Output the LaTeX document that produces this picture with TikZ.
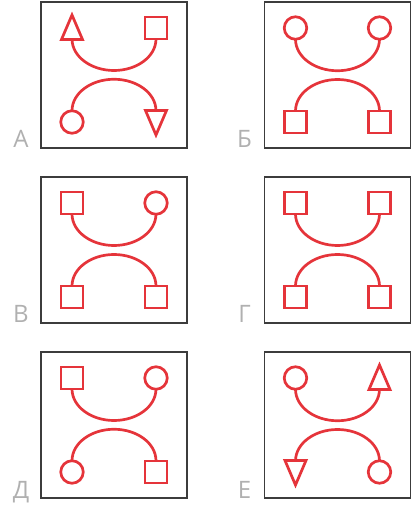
\documentclass[tikz,border=0pt]{standalone}
\usepackage{fontspec}
\setmainfont{Open Sans}
\definecolor{myred}{HTML}{E5343A}
\definecolor{boxgray}{HTML}{3C3C3C}
\definecolor{labgray}{HTML}{B0B0B0}
\begin{document}
\begin{tikzpicture}[x=1pt,y=1pt,
  frame/.style={draw=boxgray,line width=1.1pt},
  shp/.style={draw=myred,line width=2.7pt},
  rnd/.style={shp,circle,minimum size=22.5pt,inner sep=0pt,outer sep=0pt},
  sqr/.style={shp,rectangle,minimum size=22pt,inner sep=0pt,outer sep=0pt},
  arcl/.style={draw=myred,line width=2.7pt},
  dn/.style={start angle=180,end angle=360,x radius=42,y radius=31.5},
  up/.style={start angle=180,end angle=0,x radius=42,y radius=31.5},
  lab/.style={anchor=base,text=labgray,font=\fontsize{24}{24}\selectfont,inner sep=0pt}]
\useasboundingbox (0,0) rectangle (413,507);

% ---------- A ----------
\begin{scope}[shift={(41,505)}]
  \draw[frame] (0,0) rectangle (146,-146);
  \draw[shp] (20.5,-37.5) -- (31,-13) -- (41.5,-37.5) -- cycle;
  \coordinate (a1) at (31,-37);
  \node[sqr] (a2) at (115,-26) {};
  \node[rnd] (a3) at (31,-120) {};
  \draw[shp] (104.5,-108.5) -- (125.5,-108.5) -- (115,-133) -- cycle;
  \coordinate (a4) at (115,-109);
  \draw[arcl] (a1) arc[dn];
  \draw[arcl] (a3.north) arc[up];
  \node[lab] (la) at (-20,-146) {А};
\end{scope}

% ---------- Б ----------
\begin{scope}[shift={(264.5,505)}]
  \draw[frame] (0,0) rectangle (146,-146);
  \node[rnd] (b1) at (31,-26) {};
  \node[rnd] (b2) at (115,-26) {};
  \node[sqr] (b3) at (31,-120) {};
  \node[sqr] (b4) at (115,-120) {};
  \draw[arcl] (b1.south) arc[dn];
  \draw[arcl] (b3.north) arc[up];
  \node[lab] (lb) at (-20,-146) {Б};
\end{scope}

% ---------- В ----------
\begin{scope}[shift={(41,330)}]
  \draw[frame] (0,0) rectangle (146,-146);
  \node[sqr] (c1) at (31,-26) {};
  \node[rnd] (c2) at (115,-26) {};
  \node[sqr] (c3) at (31,-120) {};
  \node[sqr] (c4) at (115,-120) {};
  \draw[arcl] (c1.south) arc[dn];
  \draw[arcl] (c3.north) arc[up];
  \node[lab] (lc) at (-20,-146) {В};
\end{scope}

% ---------- Г ----------
\begin{scope}[shift={(264.5,330)}]
  \draw[frame] (0,0) rectangle (146,-146);
  \node[sqr] (d1) at (31,-26) {};
  \node[sqr] (d2) at (115,-26) {};
  \node[sqr] (d3) at (31,-120) {};
  \node[sqr] (d4) at (115,-120) {};
  \draw[arcl] (d1.south) arc[dn];
  \draw[arcl] (d3.north) arc[up];
  \node[lab] (ld) at (-20,-146) {Г};
\end{scope}

% ---------- Д ----------
\begin{scope}[shift={(41,155)}]
  \draw[frame] (0,0) rectangle (146,-146);
  \node[sqr] (e1) at (31,-26) {};
  \node[rnd] (e2) at (115,-26) {};
  \node[rnd] (e3) at (31,-120) {};
  \node[sqr] (e4) at (115,-120) {};
  \draw[arcl] (e1.south) arc[dn];
  \draw[arcl] (e3.north) arc[up];
  \node[lab] (le) at (-20,-146) {Д};
\end{scope}

% ---------- Е ----------
\begin{scope}[shift={(264.5,155)}]
  \draw[frame] (0,0) rectangle (146,-146);
  \node[rnd] (f1) at (31,-26) {};
  \draw[shp] (104.5,-37.5) -- (115,-13) -- (125.5,-37.5) -- cycle;
  \coordinate (f2) at (115,-37);
  \draw[shp] (20.5,-108.5) -- (41.5,-108.5) -- (31,-133) -- cycle;
  \coordinate (f3) at (31,-109);
  \node[rnd] (f4) at (115,-120) {};
  \draw[arcl] (f1.south) arc[dn];
  \draw[arcl] (f3) arc[up];
  \node[lab] (lf) at (-20,-146) {Е};
\end{scope}
\end{tikzpicture}
\end{document}
